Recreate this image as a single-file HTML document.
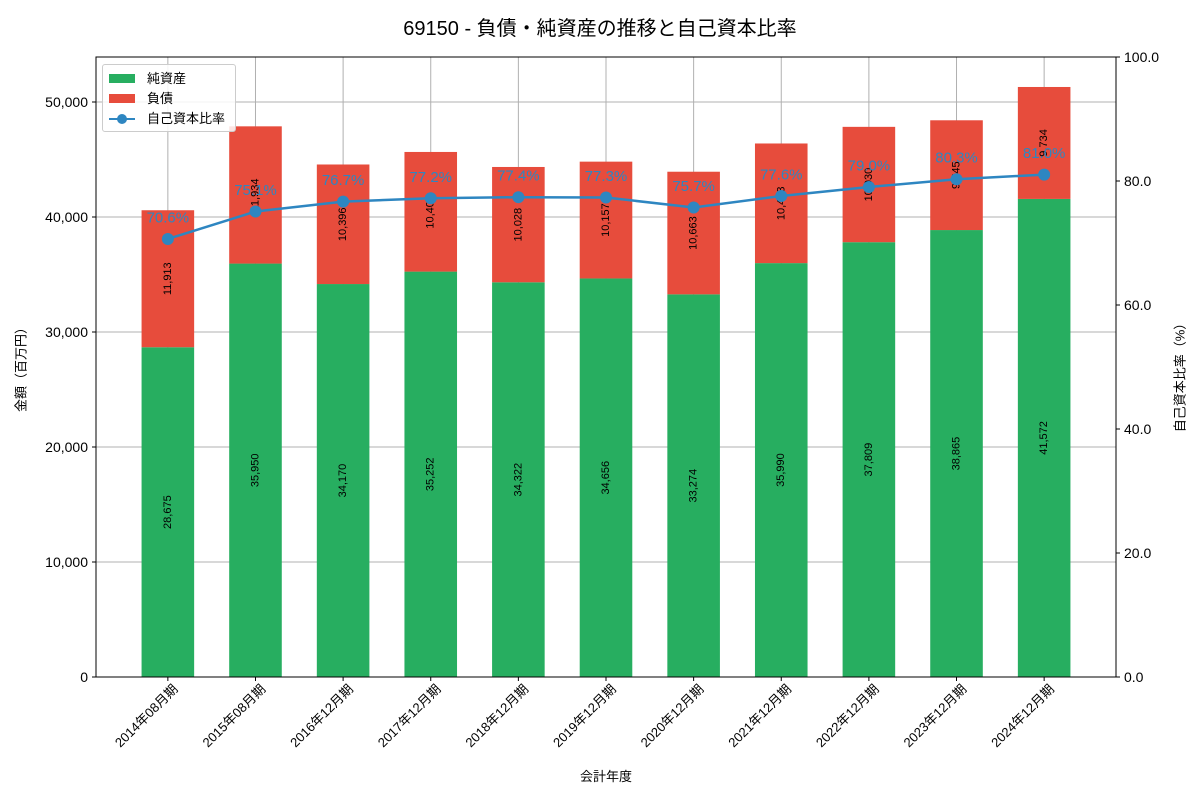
<!DOCTYPE html>
<html><head><meta charset="utf-8"><style>
body{margin:0;background:#fff;}
svg{font-family:"Liberation Sans","Noto Sans CJK JP",sans-serif;}
</style></head><body>
<svg id="c" width="1200" height="800"></svg>
<script>
const categories=["2014年08月期","2015年08月期","2016年12月期","2017年12月期","2018年12月期","2019年12月期","2020年12月期","2021年12月期","2022年12月期","2023年12月期","2024年12月期"];
const netAssets=[28675,35950,34170,35252,34322,34656,33274,35990,37809,38865,41572];
const liabilities=[11913,11934,10396,10404,10028,10157,10663,10403,10030,9545,9734];
const leftTicks=[0,10000,20000,30000,40000,50000];
const rightTicks=[0,20,40,60,80,100];
const ns="http://www.w3.org/2000/svg";
const svg=document.getElementById('c');
const L=96,R=1116,T=57,B=677,leftMax=53913;
const pad=0.82;
const step=(R-L)/(categories.length-1+2*pad);
const xc=i=>L+step*(i+pad);
const yL=v=>B-(v/leftMax)*(B-T);
const yR=v=>B-(v/100)*(B-T);
function el(tag,attrs,text){const e=document.createElementNS(ns,tag);for(const k in attrs)e.setAttribute(k,attrs[k]);if(text!==undefined)e.textContent=text;svg.appendChild(e);return e;}
leftTicks.forEach(v=>{const g=el('line',{x1:L,x2:R,y1:yL(v),y2:yL(v),stroke:'#b0b0b0','stroke-width':1});

});
categories.forEach((c,i)=>{const g=el('line',{x1:xc(i),x2:xc(i),y1:T,y2:B,stroke:'#b0b0b0','stroke-width':1});

});
const bw=step*0.6;
const ratios=netAssets.map((n,i)=>n/(n+liabilities[i])*100);
categories.forEach((c,i)=>{
 const x=xc(i)-bw/2;
 const g=el('rect',{x:x,y:yL(netAssets[i]),width:bw,height:B-yL(netAssets[i]),fill:'#27ae60'});
 
 
 const r=el('rect',{x:x,y:yL(netAssets[i]+liabilities[i]),width:bw,height:yL(netAssets[i])-yL(netAssets[i]+liabilities[i]),fill:'#e74c3c'});
 
 
 const ym=(B+yL(netAssets[i]))/2;
 const t1=el('text',{x:xc(i),y:ym,'font-size':11,'text-anchor':'middle','dominant-baseline':'central',transform:`rotate(-90 ${xc(i)} ${ym})`},netAssets[i].toLocaleString('en-US'));
 
 
 const ym2=(yL(netAssets[i])+yL(netAssets[i]+liabilities[i]))/2;
 const t2=el('text',{x:xc(i),y:ym2,'font-size':11,'text-anchor':'middle','dominant-baseline':'central',transform:`rotate(-90 ${xc(i)} ${ym2})`},liabilities[i].toLocaleString('en-US'));
 
 
});
const pts=ratios.map((r,i)=>xc(i)+','+yR(r)).join(' ');
const pl=el('polyline',{points:pts,fill:'none',stroke:'#2e86c1','stroke-width':2.5});


ratios.forEach((r,i)=>{
 const c=el('circle',{cx:xc(i),cy:yR(r),r:6,fill:'#2e86c1'});
 
 
 const t=el('text',{x:xc(i),y:yR(r)-21,'font-size':15,fill:'#2e86c1','text-anchor':'middle','dominant-baseline':'central'},r.toFixed(1)+'%');
 
 
});
const fr=el('rect',{x:L,y:T,width:R-L,height:B-T,fill:'none',stroke:'#000','stroke-width':1});


leftTicks.forEach(v=>{el('line',{x1:L-4,x2:L,y1:yL(v),y2:yL(v),stroke:'#000'});
 const t=el('text',{x:L-8,y:yL(v),'font-size':14,'text-anchor':'end','dominant-baseline':'central'},v.toLocaleString('en-US'));
 
 });
rightTicks.forEach(v=>{el('line',{x1:R,x2:R+4,y1:yR(v),y2:yR(v),stroke:'#000'});
 const t=el('text',{x:R+8,y:yR(v),'font-size':14,'dominant-baseline':'central'},v.toFixed(1));
 
 });
categories.forEach((c,i)=>{el('line',{x1:xc(i),x2:xc(i),y1:B,y2:B+4,stroke:'#000'});
 const x=xc(i)+4,y=B+6;
 const t=el('text',{x:x,y:y,'font-size':13,'text-anchor':'end','dominant-baseline':'hanging',transform:`rotate(-45 ${x} ${y})`},c);
 
 });
</script>
<div style="position:absolute;left:0;top:0;width:1200px;height:800px;pointer-events:none">
<div style="position:absolute;top:12px;width:1200px;text-align:center;font:20px 'Liberation Sans','Noto Sans CJK JP',sans-serif">69150 - 負債・純資産の推移と自己資本比率</div>
<div style="position:absolute;top:766px;left:0;width:1212px;text-align:center;font:13px 'Liberation Sans','Noto Sans CJK JP',sans-serif">会計年度</div>
<div style="position:absolute;left:-30px;top:357px;width:100px;text-align:center;transform:rotate(-90deg);font:13px 'Liberation Sans','Noto Sans CJK JP',sans-serif">金額（百万円）</div>
<div style="position:absolute;left:1114px;top:365px;width:130px;text-align:center;transform:rotate(-90deg);font:13px 'Liberation Sans','Noto Sans CJK JP',sans-serif">自己資本比率（%）</div>
<div style="position:absolute;left:102px;top:64px;width:132px;height:66px;border:1px solid #ccc;border-radius:3px;background:rgba(255,255,255,.85);font:13px 'Liberation Sans','Noto Sans CJK JP',sans-serif">
 <div style="position:absolute;left:6px;top:3px;"><span style="display:inline-block;width:26px;height:9px;background:#27ae60;margin-right:12px"></span>純資産</div>
 <div style="position:absolute;left:6px;top:23px;"><span style="display:inline-block;width:26px;height:9px;background:#e74c3c;margin-right:12px"></span>負債</div>
 <div style="position:absolute;left:6px;top:43px;"><span style="display:inline-block;position:relative;width:26px;height:9px;margin-right:12px"><span style="position:absolute;left:0;top:4px;width:26px;height:2px;background:#2e86c1"></span><span style="position:absolute;left:8px;top:0;width:10px;height:10px;border-radius:50%;background:#2e86c1"></span></span>自己資本比率</div>
</div>
</div>
</body></html>
